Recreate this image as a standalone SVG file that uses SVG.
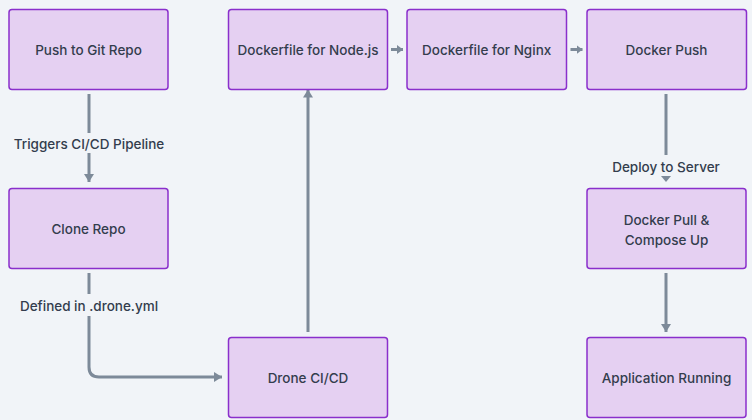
<svg xmlns="http://www.w3.org/2000/svg" width="752" height="420" viewBox="0 0 752 420">
<defs>
<style>
.node rect{fill:#e5d0f2;stroke:#8a2fcc;stroke-width:1.5}
.node text,.lbl{font-family:Inter,"Noto Sans","DejaVu Sans",sans-serif;font-size:13.5px;font-weight:500;fill:#333d4d;text-anchor:middle;dominant-baseline:central}
.edge{fill:none;stroke:#7d8a99;stroke-width:3}
</style>
<marker id="ah" viewBox="0 0 8 10" refX="8" refY="5" markerWidth="8" markerHeight="10" markerUnits="userSpaceOnUse" orient="auto">
<path d="M0,0 L8,5 L0,10 z" fill="#7d8a99"/>
</marker>
<marker id="ahs" viewBox="0 0 6 9" refX="6" refY="4.5" markerWidth="6" markerHeight="9" markerUnits="userSpaceOnUse" orient="auto">
<path d="M0,0 L6,4.5 L0,9 z" fill="#7d8a99"/>
</marker>
</defs>
<rect width="752" height="420" fill="#f1f4f8"/>
<g id="connectors">
<path class="edge" d="M89,94 V133"/>
<path class="edge" d="M89,153 V182" marker-end="url(#ah)"/>
<text class="lbl" x="89" y="144">Triggers CI/CD Pipeline</text>
<path class="edge" d="M89,273 V294"/>
<path class="edge" d="M89,316 V367 Q89,377 99,377 H222" marker-end="url(#ah)"/>
<text class="lbl" x="89" y="306">Defined in .drone.yml</text>
<path class="edge" d="M308,332 V89.5" marker-end="url(#ah)"/>
<path class="edge" d="M391,49.5 H403" marker-end="url(#ahs)"/>
<path class="edge" d="M570.5,49.5 H582.5" marker-end="url(#ahs)"/>
<path class="edge" d="M666,94 V155"/>
<path fill="#7d8a99" d="M661,176 L671,176 L666,182 z"/>
<text class="lbl" x="666" y="167">Deploy to Server</text>
<path class="edge" d="M666,273 V332" marker-end="url(#ah)"/>
</g>
<g id="push" class="node"><rect x="9" y="9.5" width="159" height="80" rx="3"/><text x="88.5" y="50">Push to Git Repo</text></g>
<g id="clone" class="node"><rect x="9" y="188.5" width="159" height="80" rx="3"/><text x="88.5" y="228.5">Clone Repo</text></g>
<g id="drone" class="node"><rect x="228.5" y="337.5" width="159" height="80" rx="3"/><text x="308" y="378">Drone CI/CD</text></g>
<g id="dnode" class="node"><rect x="228.5" y="9.5" width="159" height="80" rx="3"/><text x="308" y="50">Dockerfile for Node.js</text></g>
<g id="dnginx" class="node"><rect x="407" y="9.5" width="159.5" height="80" rx="3"/><text x="486.7" y="50">Dockerfile for Nginx</text></g>
<g id="dpush" class="node"><rect x="587" y="9.5" width="159.5" height="80" rx="3"/><text x="666.5" y="50">Docker Push</text></g>
<g id="dpull" class="node"><rect x="587" y="188.5" width="159" height="80" rx="3"/><text x="666.5" y="219.5">Docker Pull &amp;</text><text x="666.5" y="239.5">Compose Up</text></g>
<g id="app" class="node"><rect x="587" y="337.5" width="159" height="80" rx="3"/><text x="666.5" y="378">Application Running</text></g>
</svg>
